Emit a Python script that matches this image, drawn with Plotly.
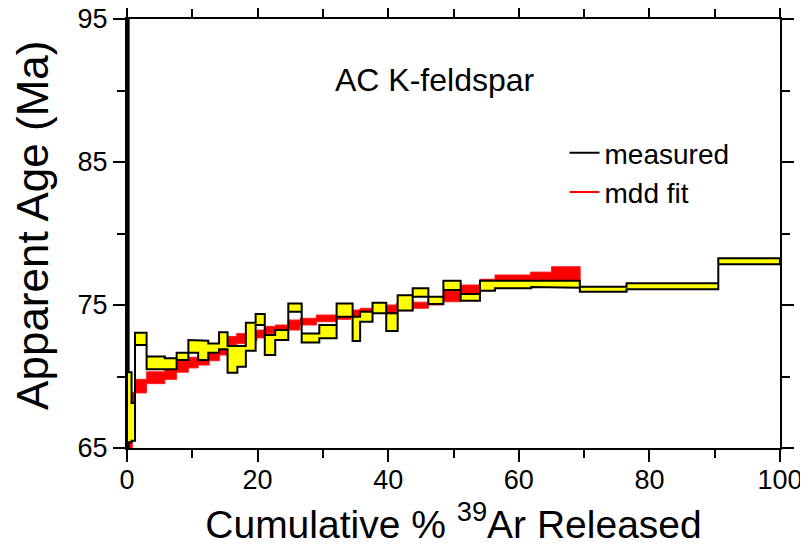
import plotly.graph_objects as go

# ---- measured age spectrum (cumulative % 39Ar step edges, 1-sigma age envelope, Ma)
meas_edges = [0, 0.25, 0.7, 1.23, 3.0, 5.8, 7.6, 9.4, 10.9, 12.45, 14.1, 15.4, 16.9,
              18.2, 19.7, 21.1, 22.7, 24.7, 26.75, 29.45, 32.1, 34.55, 35.7, 37.6,
              39.7, 41.45, 43.75, 46.15, 48.45, 51.1, 54.05, 56.35, 61.9, 65.0,
              69.35, 76.5, 90.55, 100]
meas_low = [60, 65.4, 65.5, 72.2, 70.5, 70.5, 71.15, 71.66, 71.15, 71.66, 71.9, 70.27,
            70.69, 71.8, 73.6, 71.5, 72.55, 74.53, 72.37, 72.67, 74.18, 72.48, 73.83,
            74.42, 73.18, 74.62, 75.58, 75.07, 76.05, 75.3, 76.0, 76.17, 76.26, 76.21,
            75.93, 76.1, 77.85]
meas_high = [100, 70.3, 68.15, 73.06, 71.4, 71.27, 71.66, 72.55, 72.5, 72.3, 73.1, 72.13,
             72.13, 73.76, 74.37, 72.9, 73.25, 75.1, 73.0, 73.6, 75.1, 74.18, 74.53,
             75.16, 74.42, 75.68, 76.17, 75.58, 76.7, 75.77, 76.7, 76.7, 76.75, 76.7,
             76.28, 76.52, 78.27]

# ---- MDD model fit envelope
fit_edges = [0.3, 0.8, 1.3, 3.0, 5.8, 7.6, 9.4, 10.9, 12.6, 14.2, 15.5, 16.8, 18.3,
             19.9, 21.1, 22.7, 24.7, 26.5, 29.0, 32.1, 34.3, 35.7, 37.6, 41.2, 43.75,
             46.15, 48.45, 51.1, 54.05, 56.35, 61.8, 65.0, 69.4]
fit_low = [65.0, 66.8, 68.85, 69.5, 69.8, 70.3, 70.6, 70.8, 71.1, 71.5, 72.1, 72.3,
           72.5, 72.7, 73.0, 73.1, 73.25, 73.6, 73.83, 74.0, 74.18, 74.3, 74.42, 74.6,
           74.77, 75.0, 75.23, 75.77, 76.05, 76.7, 76.75, 76.7]
fit_high = [67.5, 68.9, 69.8, 70.33, 70.6, 71.1, 71.35, 71.5, 71.85, 72.2, 72.8, 73.0,
            73.15, 73.25, 73.5, 73.6, 73.95, 74.07, 74.3, 74.5, 74.65, 74.77, 75.0,
            75.1, 75.2, 75.4, 76.05, 76.4, 76.8, 77.1, 77.3, 77.68]

x_ticks = [0, 20, 40, 60, 80, 100]
y_ticks = [65, 75, 85, 95]


def band(edges, low, high):
    xs, ys = [], []
    for i in range(len(high)):
        xs += [edges[i], edges[i + 1]]
        ys += [high[i], high[i]]
    for i in reversed(range(len(low))):
        xs += [edges[i + 1], edges[i]]
        ys += [low[i], low[i]]
    xs.append(xs[0])
    ys.append(ys[0])
    return xs, ys


FONT = "Arial, Liberation Sans, Helvetica, sans-serif"

fig = go.Figure()

fx, fy = band(fit_edges, fit_low, fit_high)
fig.add_trace(go.Scatter(x=fx, y=fy, mode="lines", fill="toself",
                         fillcolor="#FF0000", line=dict(color="#FF2020", width=1),
                         showlegend=False, hoverinfo="skip"))

mx, my = band(meas_edges, meas_low, meas_high)
fig.add_trace(go.Scatter(x=mx, y=my, mode="lines", fill="toself",
                         fillcolor="#FFFF00", line=dict(color="black", width=2),
                         showlegend=False, hoverinfo="skip"))

# legend entries
fig.add_trace(go.Scatter(x=[None], y=[None], mode="lines", name="measured",
                         line=dict(color="black", width=2)))
fig.add_trace(go.Scatter(x=[None], y=[None], mode="lines", name="mdd fit",
                         line=dict(color="red", width=2)))

axis_common = dict(
    showline=True, linecolor="black", linewidth=2, mirror="allticks",
    ticks="outside", ticklen=12, tickwidth=2, tickcolor="black",
    showgrid=False, zeroline=False, automargin=False,
    ticklabeloverflow="allow",
    tickfont=dict(family=FONT, size=27, color="black"),
)

fig.update_xaxes(range=[0, 100], tickvals=x_ticks, ticktext=[str(v) for v in x_ticks],
                 minor=dict(ticks="outside", ticklen=8, tickwidth=2, tickcolor="black", dtick=10, tick0=0),
                 ticklabelstandoff=-5,
                 title=dict(text="Cumulative % <sup>39</sup>Ar Released",
                            font=dict(family=FONT, size=39, color="black"), standoff=16),
                 **axis_common)
fig.update_yaxes(range=[65, 95], tickvals=y_ticks, ticktext=[str(v) for v in y_ticks],
                 minor=dict(ticks="outside", ticklen=8, tickwidth=2, tickcolor="black", dtick=5, tick0=65),
                 **axis_common)

# y-axis title placed as rotated text (offset upward like the reference)
fig.add_annotation(text="Apparent Age (Ma)", xref="paper", yref="paper",
                   x=-0.144, y=0.52, xanchor="center", yanchor="middle",
                   textangle=-90, showarrow=False,
                   font=dict(family=FONT, size=44, color="black"))

fig.add_annotation(text="AC K-feldspar", xref="paper", yref="paper", x=0.4717, y=0.858,
                   xanchor="center", yanchor="middle",
                   showarrow=False, font=dict(family=FONT, size=32, color="black"))

# page body adds an 8px offset; margins compensate so the plot area sits at the reference position
fig.update_layout(
    width=808, height=552,
    margin=dict(l=119, r=36, t=11, b=112),
    plot_bgcolor="white", paper_bgcolor="white",
    legend=dict(x=0.67, y=0.746, xanchor="left", yanchor="top",
                bgcolor="rgba(0,0,0,0)", font=dict(family=FONT, size=28, color="black"),
                tracegroupgap=0),
)

fig.write_html("out.html")
